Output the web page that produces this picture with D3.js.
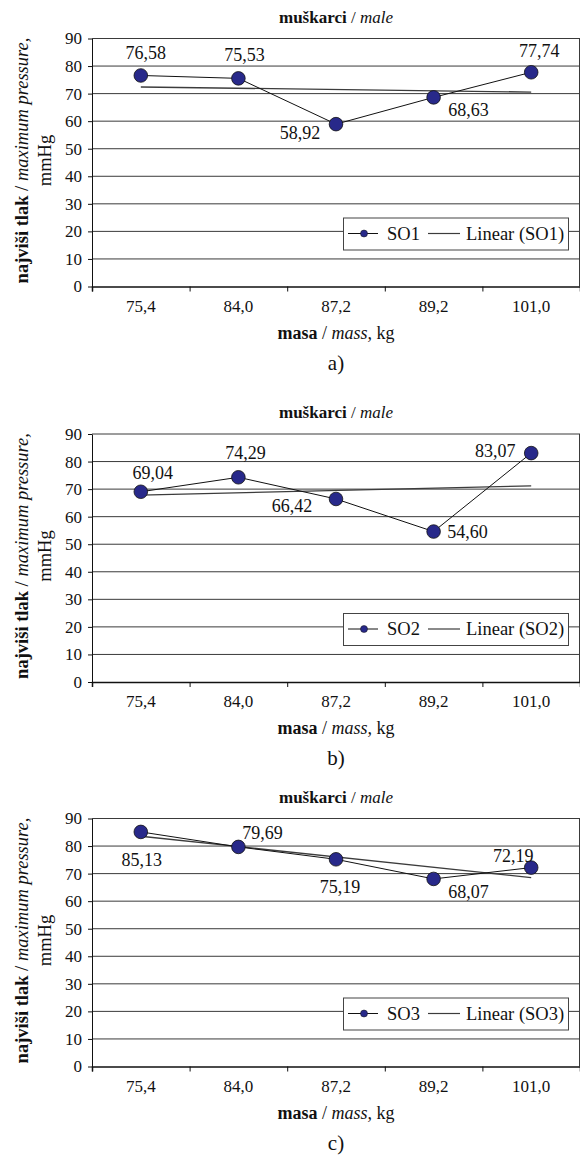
<!DOCTYPE html>
<html><head><meta charset="utf-8">
<script src="https://cdn.jsdelivr.net/npm/d3@7"></script>
</head><body style="margin:0;background:#fff">
<svg id="chart" width="580" height="1156" style="display:block"></svg>
<script>
// ---- data ----
const categories = ["75,4", "84,0", "87,2", "89,2", "101,0"];
const so1 = [76.58, 75.53, 58.92, 68.63, 77.74];
const so2 = [69.04, 74.29, 66.42, 54.60, 83.07];
const so3 = [85.13, 79.69, 75.19, 68.07, 72.19];
const seriesNames = ["SO1", "SO2", "SO3"];
const yTicks = [0, 10, 20, 30, 40, 50, 60, 70, 80, 90];
const panelLetters = ["a)", "b)", "c)"];
const chartTitleBold = "muškarci";
const chartTitleItalic = "male";

// ---- layout / style (not data) ----
const FONT = "Liberation Serif";
const seriesValues = [so1, so2, so3];
const panelTops = [38.5, 434, 818.5];
const plotH = 248;
const plotL = 92, plotR = 580;
// data label offsets from point (dx, dy of label centre)
const labelOffsets = [
  [[5, -22], [6, -23], [-36, 9], [35, 13], [8, -21]],
  [[12, -19], [7, -24], [-44, 7], [34, 0], [-36, -2]],
  [[1, 28], [24, -14], [4, 28], [35, 13], [-18, -12]]
];
const markerFill = "#28298a";
const TXT = "#111";

const svg = d3.select("#chart");
const fmt = v => d3.format(".2f")(v).replace(".", ",");
const txt = (sel) => sel.attr("font-family", FONT).attr("fill", TXT);

seriesValues.forEach((vals, p) => {
  const top = panelTops[p], bottom = top + plotH;
  const g = svg.append("g");
  const x = d3.scaleBand().domain(categories).range([plotL, plotR]).paddingInner(0).paddingOuter(0);
  const xi = d3.scaleLinear().domain([0, categories.length]).range([plotL, plotR]);
  const y = d3.scaleLinear().domain([0, 90]).range([bottom, top]);
  const cx = c => x(c) + x.bandwidth() / 2;

  // gridlines
  g.selectAll("line.grid").data(yTicks.filter(t => t > 0)).join("line")
    .attr("x1", plotL).attr("x2", plotR)
    .attr("y1", d => y(d)).attr("y2", d => y(d))
    .attr("stroke", "#3a3a3a").attr("stroke-width", 1);
  // right border
  g.append("line").attr("x1", plotR - 0.5).attr("x2", plotR - 0.5)
    .attr("y1", top).attr("y2", bottom).attr("stroke", "#3a3a3a");

  // y axis
  const ya = g.append("g").attr("transform", `translate(${plotL},0)`)
    .call(d3.axisLeft(y).tickValues(yTicks).tickSize(4).tickPadding(6).tickSizeOuter(0));
  ya.attr("font-family", FONT);
  ya.select(".domain").attr("stroke", "#111");
  ya.selectAll(".tick line").attr("stroke", "#111");
  txt(ya.selectAll("text")).attr("font-size", 17);

  // x axis boundary ticks
  const xb = g.append("g").attr("transform", `translate(0,${bottom})`)
    .call(d3.axisBottom(xi).tickValues(d3.range(categories.length + 1)).tickSize(5).tickFormat(""));
  xb.select(".domain").attr("stroke", "#111").attr("stroke-width", 1.5);
  xb.selectAll(".tick line").attr("stroke", "#111");
  // x axis labels
  const xl = g.append("g").attr("transform", `translate(0,${bottom})`)
    .call(d3.axisBottom(x).tickSize(0).tickPadding(13));
  xl.attr("font-family", FONT);
  xl.select(".domain").remove();
  txt(xl.selectAll("text")).attr("font-size", 17);

  // trend line (least squares, as Excel linear trendline)
  const n = vals.length;
  const idx = d3.range(1, n + 1);
  const mx = d3.mean(idx), my = d3.mean(vals);
  const slope = d3.sum(idx, (xv, i) => (xv - mx) * (vals[i] - my)) / d3.sum(idx, xv => (xv - mx) ** 2);
  const icpt = my - slope * mx;
  const trend = [{c: categories[0], v: icpt + slope * 1}, {c: categories[n - 1], v: icpt + slope * n}];
  g.append("path").datum(trend)
    .attr("d", d3.line().x(d => cx(d.c)).y(d => y(d.v)))
    .attr("fill", "none").attr("stroke", "#3c3c3c").attr("stroke-width", 1.3);

  // data line
  const pts = vals.map((v, i) => ({c: categories[i], v, i}));
  g.append("path").datum(pts)
    .attr("d", d3.line().x(d => cx(d.c)).y(d => y(d.v)))
    .attr("fill", "none").attr("stroke", "#111").attr("stroke-width", 1);

  // markers
  g.selectAll("circle.m").data(pts).join("circle")
    .attr("cx", d => cx(d.c)).attr("cy", d => y(d.v)).attr("r", 6.8)
    .attr("fill", markerFill).attr("stroke", "#111").attr("stroke-width", 0.8);

  // data labels
  txt(g.selectAll("text.lab").data(pts).join("text"))
    .attr("x", d => cx(d.c) + labelOffsets[p][d.i][0])
    .attr("y", d => y(d.v) + labelOffsets[p][d.i][1] + 6)
    .attr("text-anchor", "middle").attr("font-size", 18)
    .text(d => fmt(d.v));

  // legend
  const lgTop = bottom - 69, lgH = 32, lgL = 343, lgR = 568, lgY = lgTop + lgH / 2;
  g.append("rect").attr("x", lgL + 0.5).attr("y", lgTop + 0.5).attr("width", lgR - lgL).attr("height", lgH)
    .attr("fill", "#fff").attr("stroke", "#444");
  g.append("line").attr("x1", lgL + 5).attr("x2", lgL + 35).attr("y1", lgY).attr("y2", lgY).attr("stroke", "#111");
  g.append("circle").attr("cx", lgL + 21).attr("cy", lgY).attr("r", 3.5).attr("fill", markerFill).attr("stroke", "#111").attr("stroke-width", 0.5);
  txt(g.append("text")).attr("x", lgL + 44).attr("y", lgY + 6).attr("font-size", 18.5).text(seriesNames[p]);
  g.append("line").attr("x1", lgL + 85).attr("x2", lgL + 117).attr("y1", lgY).attr("y2", lgY).attr("stroke", "#3c3c3c").attr("stroke-width", 1.2);
  txt(g.append("text")).attr("x", lgL + 123).attr("y", lgY + 6).attr("font-size", 18.5).text(`Linear (${seriesNames[p]})`);

  // chart title
  const t = txt(g.append("text")).attr("x", 336).attr("y", top - 16).attr("text-anchor", "middle").attr("font-size", 17);
  t.append("tspan").attr("font-weight", "bold").text(chartTitleBold);
  t.append("tspan").text(" / ");
  t.append("tspan").attr("font-style", "italic").text(chartTitleItalic);

  // x axis title
  const xt = txt(g.append("text")).attr("x", 336).attr("y", bottom + 52).attr("text-anchor", "middle").attr("font-size", 18);
  xt.append("tspan").attr("font-weight", "bold").text("masa");
  xt.append("tspan").text(" / ");
  xt.append("tspan").attr("font-style", "italic").text("mass,");
  xt.append("tspan").text(" kg");

  // y axis title
  const yc = top + 122;
  const yt = txt(g.append("text")).attr("transform", `translate(28,${yc}) rotate(-90)`).attr("text-anchor", "middle").attr("font-size", 18.5);
  yt.append("tspan").attr("font-weight", "bold").text("najviši tlak");
  yt.append("tspan").text(" / ");
  yt.append("tspan").attr("font-style", "italic").text("maximum pressure,");
  txt(g.append("text")).attr("transform", `translate(51,${yc}) rotate(-90)`).attr("text-anchor", "middle").attr("font-size", 18.5).text("mmHg");

  // panel letter
  txt(g.append("text")).attr("x", 336).attr("y", bottom + 83).attr("text-anchor", "middle").attr("font-size", 21).text(panelLetters[p]);
});
</script>
</body></html>
